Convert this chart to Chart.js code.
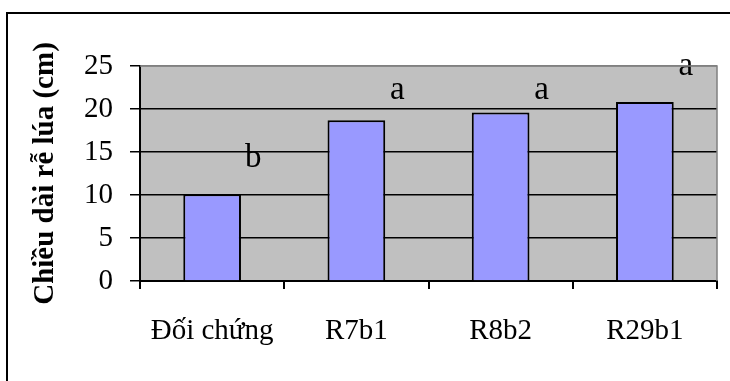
<!DOCTYPE html>
<html>
<head>
<meta charset="utf-8">
<script src="https://cdn.jsdelivr.net/npm/chart.js@4"></script>
<style>
  html, body { margin: 0; padding: 0; background: #fff; overflow: hidden; }
  #frame { position: absolute; left: 6px; top: 12px; width: 740px; height: 390px; border: 2px solid #000; }
  #wrap { position: absolute; left: 0; top: 0; width: 722px; height: 367px; }
</style>
</head>
<body>
<div id="frame"><div id="wrap"><canvas id="c"></canvas></div></div>
<script>
/* data */
const categories = ['Đối chứng', 'R7b1', 'R8b2', 'R29b1'];
const rootLength = [10.1, 18.7, 19.6, 20.8];
const groupLetters = ['b', 'a', 'a', 'a'];
const letterLevel = [14.3, 22.2, 22.2, 25.0];
const yTicks = [0, 5, 10, 15, 20, 25];

Chart.defaults.font.family = '"Liberation Serif", "Times New Roman", serif';
Chart.defaults.color = '#000';

const plotFrame = {
  id: 'plotFrame',
  beforeDraw(chart) {
    const { ctx, chartArea: a } = chart;
    ctx.save();
    ctx.fillStyle = '#c0c0c0';
    ctx.fillRect(a.left, a.top, a.right - a.left, a.bottom - a.top);
    ctx.restore();
  },
  afterDraw(chart) {
    const { ctx, chartArea: a } = chart;
    ctx.save();
    ctx.strokeStyle = '#808080';
    ctx.lineWidth = 1.5;
    ctx.beginPath();
    ctx.moveTo(a.left, a.top);
    ctx.lineTo(a.right, a.top);
    ctx.lineTo(a.right, a.bottom);
    ctx.stroke();
    ctx.restore();
  }
};

const letters = {
  id: 'letters',
  afterDatasetsDraw(chart) {
    const { ctx, scales: { x, y } } = chart;
    ctx.save();
    ctx.font = '33px "Liberation Serif", serif';
    ctx.fillStyle = '#000';
    ctx.textAlign = 'center';
    ctx.textBaseline = 'middle';
    groupLetters.forEach((t, i) => {
      ctx.fillText(t, x.getPixelForValue(i) + 41, y.getPixelForValue(letterLevel[i]));
    });
    ctx.restore();
  }
};

new Chart(document.getElementById('c'), {
  type: 'bar',
  data: {
    labels: categories,
    datasets: [{
      data: rootLength,
      backgroundColor: '#9999ff',
      borderColor: '#000',
      borderWidth: 2,
      barPercentage: 0.4,
      categoryPercentage: 1
    }]
  },
  options: {
    responsive: true,
    maintainAspectRatio: false,
    animation: false,
    layout: { padding: { top: 52, right: 13, bottom: 0, left: 0 } },
    plugins: { legend: { display: false }, tooltip: { enabled: false } },
    scales: {
      x: {
        grid: { offset: true, drawOnChartArea: false, color: '#000', lineWidth: 2, tickLength: 8 },
        border: { color: '#000', width: 2 },
        ticks: { font: { size: 29 }, padding: 25, maxRotation: 0 },
        afterFit: s => { s.height = 100; }
      },
      y: {
        min: 0, max: 25,
        afterBuildTicks: s => { s.ticks = yTicks.map(v => ({ value: v })); },
        grid: {
          color: c => c.tick && c.tick.value === 25 ? '#808080' : '#000',
          tickColor: '#000', lineWidth: 1.5, tickLength: 10
        },
        border: { color: '#000', width: 2 },
        ticks: { font: { size: 29 }, padding: 17 },
        title: {
          display: true,
          text: 'Chiều dài rễ lúa (cm)',
          font: { size: 29, weight: 'bold' },
          padding: { top: 20, bottom: 0 }
        },
        afterFit: s => { s.width = 132; }
      }
    }
  },
  plugins: [plotFrame, letters]
});
</script>
</body>
</html>
